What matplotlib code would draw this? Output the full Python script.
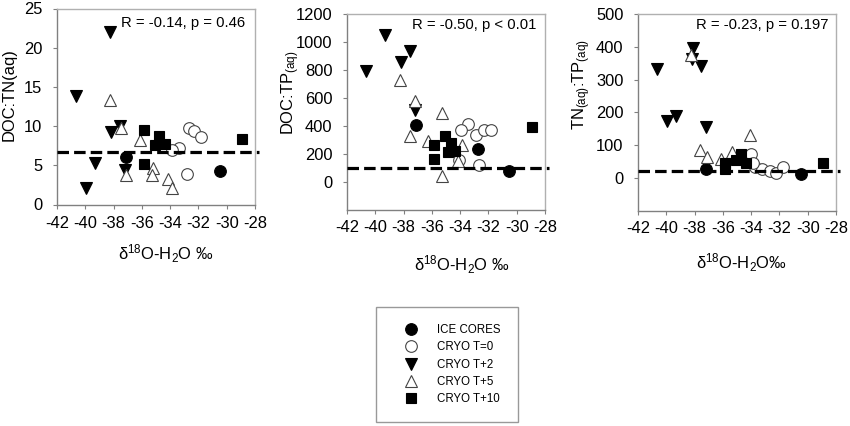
import matplotlib
matplotlib.use("Agg")
import matplotlib.pyplot as plt
from matplotlib.lines import Line2D

plt.rcParams['font.family'] = ['Liberation Sans', 'DejaVu Sans']
plt.rcParams['mathtext.fontset'] = 'custom'
plt.rcParams['mathtext.rm'] = 'Liberation Sans'
plt.rcParams['mathtext.it'] = 'Liberation Sans:italic'
plt.rcParams['mathtext.bf'] = 'Liberation Sans:bold'
plt.rcParams['axes.unicode_minus'] = False

# ---------------- data ----------------
series_names = ["ICE CORES", "CRYO T=0", "CRYO T+2", "CRYO T+5", "CRYO T+10"]

# Panel 1: DOC:TN(aq)
p1_ice_x = [-37.15, -30.5]
p1_ice_y = [6.0, 4.3]
p1_t0_x = [-32.64, -32.33, -31.8, -33.4, -33.88, -32.8]
p1_t0_y = [9.7, 9.4, 8.6, 7.2, 6.9, 3.9]
p1_t2_x = [-38.24, -40.64, -37.58, -38.16, -39.34, -39.98, -37.22]
p1_t2_y = [22.0, 13.9, 10.0, 9.2, 5.3, 2.1, 4.4]
p1_t5_x = [-38.24, -37.5, -36.1, -37.15, -35.2, -35.27, -34.16, -33.88]
p1_t5_y = [13.3, 9.7, 8.2, 3.7, 4.6, 3.7, 3.2, 2.1]
p1_t10_x = [-35.86, -34.82, -35.1, -34.35, -35.86, -28.92]
p1_t10_y = [9.5, 8.7, 7.6, 7.7, 5.2, 8.3]

# Panel 2: DOC:TP(aq)
p2_ice_x = [-37.15, -32.75, -30.56]
p2_ice_y = [405, 235, 82]
p2_t0_x = [-33.46, -33.93, -32.87, -32.33, -31.8, -34.05, -32.64]
p2_t0_y = [416, 372, 336, 372, 372, 158, 122]
p2_t2_x = [-39.34, -37.58, -38.21, -40.68, -37.22]
p2_t2_y = [1047, 934, 859, 795, 511]
p2_t5_x = [-38.24, -37.18, -35.29, -37.58, -36.24, -33.88, -34.16, -35.29]
p2_t5_y = [729, 576, 494, 329, 294, 266, 153, 40]
p2_t10_x = [-35.86, -35.1, -34.68, -34.87, -34.35, -35.86, -28.92]
p2_t10_y = [266, 329, 282, 212, 219, 165, 393]

# Panel 3: TN(aq):TP(aq)
p3_ice_x = [-37.17, -30.44]
p3_ice_y = [28, 10]
p3_t0_x = [-34.03, -33.75, -33.23, -32.68, -32.21, -31.74, -33.86]
p3_t0_y = [72, 34, 28, 20, 13, 34, 44]
p3_t2_x = [-40.63, -38.11, -38.18, -37.52, -39.95, -39.29, -37.17]
p3_t2_y = [331, 395, 364, 341, 174, 189, 154]
p3_t5_x = [-38.23, -37.59, -37.09, -36.15, -35.35, -34.1]
p3_t5_y = [376, 86, 64, 56, 79, 132]
p3_t10_x = [-35.82, -35.82, -34.74, -35.04, -34.33, -28.91]
p3_t10_y = [28, 46, 72, 54, 44, 46]

ref_x = [-42, -27.7]
ref_y = [6.7, 100, 22]

stats_text = ["R = -0.14, p = 0.46", "R = -0.50, p < 0.01", "R = -0.23, p = 0.197"]
y_labels = ["DOC:TN(aq)", r"DOC:TP$_{\mathrm{(aq)}}$", r"TN$_{\mathrm{(aq)}}$:TP$_{\mathrm{(aq)}}$"]
x_labels = [r"δ$^{18}$O-H$_2$O ‰", r"δ$^{18}$O-H$_2$O ‰", r"δ$^{18}$O-H$_2$O‰"]
x_ticks = [-42, -40, -38, -36, -34, -32, -30, -28]
y_ticks = [[0, 5, 10, 15, 20, 25],
           [0, 200, 400, 600, 800, 1000, 1200],
           [0, 100, 200, 300, 400, 500]]
y_lims = [(0, 25), (-200, 1200), (-100, 500)]

panels = [
    [(p1_ice_x, p1_ice_y), (p1_t0_x, p1_t0_y), (p1_t2_x, p1_t2_y), (p1_t5_x, p1_t5_y), (p1_t10_x, p1_t10_y)],
    [(p2_ice_x, p2_ice_y), (p2_t0_x, p2_t0_y), (p2_t2_x, p2_t2_y), (p2_t5_x, p2_t5_y), (p2_t10_x, p2_t10_y)],
    [(p3_ice_x, p3_ice_y), (p3_t0_x, p3_t0_y), (p3_t2_x, p3_t2_y), (p3_t5_x, p3_t5_y), (p3_t10_x, p3_t10_y)],
]

# ---------------- styles ----------------
styles = [
    dict(marker='o', ms=8.4, mfc='black', mec='black', mew=0.8),
    dict(marker='o', ms=8.4, mfc='white', mec='#444444', mew=0.8),
    dict(marker='v', ms=8.6, mfc='black', mec='black', mew=0.8),
    dict(marker='^', ms=8.6, mfc='white', mec='#444444', mew=0.8),
    dict(marker='s', ms=7.6, mfc='black', mec='black', mew=0.8),
]

fig = plt.figure(figsize=(8.5, 4.26), dpi=100)
W, H = 850.0, 426.0
# pixel boxes: left, right, top, bottom
boxes = [(57, 255, 8.5, 204.5), (347, 545, 14, 210), (638, 836, 14, 210.5)]
stat_pos = [(0.95, 0.926), (0.955, 0.944), (0.96, 0.944)]
ylabel_pos = [(-0.24, 0.56), (-0.285, 0.6), (-0.285, 0.64)]
xlabel_pos = [(0.55, -0.25), (0.58, -0.28), (0.52, -0.265)]
xtick_pad = [5.0, 4.5, 4.5]

for i, (l, r, t, b) in enumerate(boxes):
    ax = fig.add_axes([l / W, 1 - b / H, (r - l) / W, (b - t) / H])
    for (xs, ys), st in zip(panels[i], styles):
        ax.plot(xs, ys, linestyle='none', zorder=3, **st)
    ax.plot(ref_x, [ref_y[i]] * 2, color='black', lw=2.3,
            linestyle=(0, (3.6, 1.6)), clip_on=False, zorder=4)
    ax.set_xlim(-42, -28)
    ax.set_ylim(*y_lims[i])
    ax.set_xticks(x_ticks)
    ax.set_yticks(y_ticks[i])
    ax.tick_params(axis='both', direction='out', length=3, width=0.8,
                   color='#808080', labelsize=11.9, labelcolor='black')
    ax.tick_params(axis='x', pad=xtick_pad[i])
    ax.tick_params(axis='y', pad=7.5)
    for side in ['left', 'bottom']:
        ax.spines[side].set_color('#808080')
        ax.spines[side].set_linewidth(1.0)
    for side in ['right', 'top']:
        ax.spines[side].set_color('#b0b0b0')
        ax.spines[side].set_linewidth(1.0)
    ax.text(stat_pos[i][0], stat_pos[i][1], stats_text[i], transform=ax.transAxes,
            ha='right', va='center', fontsize=10.7)
    ax.set_ylabel(y_labels[i], fontsize=11.9)
    ax.yaxis.label.set_va('center')
    ax.yaxis.set_label_coords(*ylabel_pos[i])
    ax.set_xlabel(x_labels[i], fontsize=11.9)
    ax.xaxis.label.set_va('center')
    ax.xaxis.set_label_coords(*xlabel_pos[i])

handles = [Line2D([], [], linestyle='none', **st) for st in styles]
leg = fig.legend(handles, series_names, loc='upper left',
                 bbox_to_anchor=(376 / W, 1 - 307 / H), bbox_transform=fig.transFigure,
                 borderaxespad=0, fontsize=8.3, frameon=True, fancybox=False,
                 borderpad=1.5, handlelength=3.1, handletextpad=0.7,
                 labelspacing=0.45, numpoints=1)
leg.get_frame().set_edgecolor('#808080')
leg.get_frame().set_linewidth(1.0)

fig.savefig("out.png", dpi=100)
